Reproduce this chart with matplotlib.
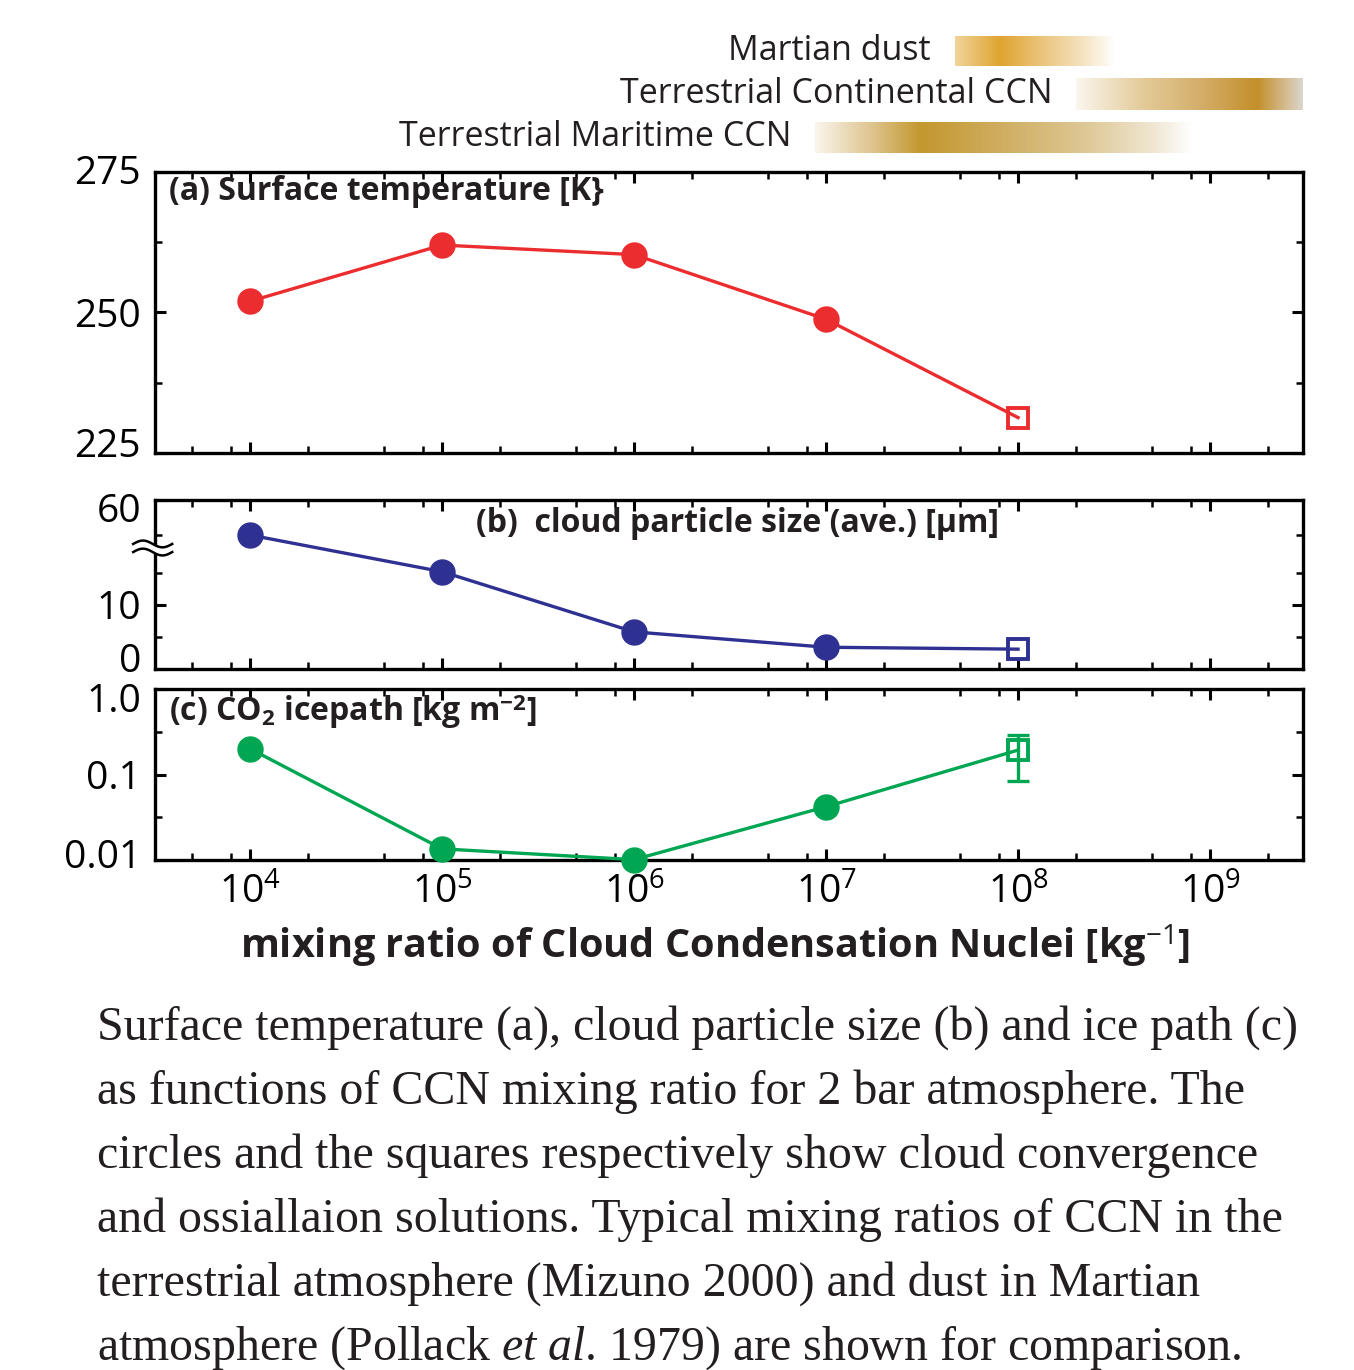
import numpy as np
import matplotlib
matplotlib.use('Agg')
import matplotlib.pyplot as plt
from matplotlib.colors import LinearSegmentedColormap
from matplotlib.ticker import FixedLocator, NullFormatter, LogLocator, FixedFormatter
from matplotlib.transforms import ScaledTranslation

plt.rcParams['font.family'] = ['Open Sans', 'DejaVu Sans']
plt.rcParams['mathtext.fontset'] = 'custom'
plt.rcParams['mathtext.rm'] = 'Open Sans'
plt.rcParams['mathtext.bf'] = 'Open Sans:bold'
plt.rcParams['mathtext.it'] = 'Liberation Serif:italic'

W, H = 1354, 1370

# ─── Data ─────────────────────────────────────────────────────────────────────
ccn = [1e4, 1e5, 1e6, 1e7, 1e8]                 # kg^-1
temp = [252.0, 262.0, 260.3, 248.8, 231.3]      # K
size = [30.0, 15.2, 5.8, 3.4, 3.1]              # um
ice = [0.20, 0.0135, 0.0101, 0.042, 0.193]      # kg m^-2
ice_err = [0.084, 0.29]                         # range at last point
n_conv = 4                                      # first n converge (circles)

range_names = ['Martian dust', 'Terrestrial Continental CCN', 'Terrestrial Maritime CCN']
range_lo = [7.67, 8.30, 6.94]                   # log10 kg^-1
range_hi = [8.50, 9.48, 8.90]

RED, BLUE, GREEN = '#EC2D2F', '#2E3192', '#00A651'
XLIM = (10**3.505, 10**9.484)

# gradient colours for each range bar
grad_stops = [
    [(0, '#F0D49A'), (0.28, '#E0A430'), (0.55, '#EBC57E'), (0.8, '#F5E3C0'), (1, '#FFFFFF')],
    [(0, '#FBF6EE'), (0.3, '#E3CA98'), (0.55, '#D4AE6A'), (0.8, '#C48F2A'), (1, '#DCD6CC')],
    [(0, '#FAF5EC'), (0.15, '#DEC48E'), (0.28, '#C4972E'), (0.5, '#D0AE62'),
     (0.72, '#DEC896'), (0.9, '#F0E6D2'), (1, '#FFFFFF')],
]
bar_rows = [(36, 66), (78, 110), (122, 153)]    # pixel rows of the bars


def fig_rect(l, t, r, b):
    return [l / W, 1 - b / H, (r - l) / W, (b - t) / H]


def style_axes(ax):
    for s in ax.spines.values():
        s.set_linewidth(2.4)
    ax.set_xscale('log')
    ax.set_xlim(*XLIM)
    ax.xaxis.set_major_locator(LogLocator(base=10, numticks=20))
    ax.xaxis.set_minor_locator(LogLocator(base=10, subs=[2, 5, 8], numticks=20))
    ax.xaxis.set_minor_formatter(NullFormatter())
    ax.tick_params(which='both', direction='in', top=True, right=True,
                   labelsize=28, pad=10)
    ax.tick_params(which='major', length=8, width=2.2)
    ax.tick_params(which='minor', length=5, width=1.8)
    ax.tick_params(axis='x', labelbottom=False)


def nudge_ylabels(ax, first=0, last=0):
    # shift end labels (pixels, + = up) so they clear neighbouring panels
    labels = ax.get_yticklabels()
    for lab, dy in ((labels[0], first), (labels[-1], last)):
        if dy:
            lab.set_transform(lab.get_transform() +
                              ScaledTranslation(0, dy / 100, fig.dpi_scale_trans))


def plot_series(ax, y, color):
    ax.plot(ccn, y, '-', color=color, lw=2.4, zorder=3, clip_on=False)
    ax.plot(ccn[:n_conv], y[:n_conv], 'o', color=color, ms=18, zorder=4, clip_on=False)
    ax.plot(ccn[n_conv:], y[n_conv:], 's', mfc='none', mec=color, mew=2.8, ms=14,
            zorder=4, clip_on=False)


def draw_break(ax, yfrac):
    t = np.linspace(-0.019, 0.015, 60)
    w = 0.02 * np.sin((t - t[0]) / (t[-1] - t[0]) * 2 * np.pi)
    gap = 0.024
    ax.fill_between(t, yfrac + w - gap, yfrac + w + gap, transform=ax.transAxes,
                    color='white', zorder=10, clip_on=False, lw=0)
    for s in (-gap, gap):
        ax.plot(t, yfrac + w + s, transform=ax.transAxes, color='black', lw=1.8,
                clip_on=False, zorder=11)


fig = plt.figure(figsize=(W / 100, H / 100), dpi=100)

# ─── Range bars ───────────────────────────────────────────────────────────────
axr = fig.add_axes(fig_rect(155, 30, 1303, 160))
axr.set_xlim(np.log10(XLIM[0]), np.log10(XLIM[1]))
axr.set_ylim(160, 30)
axr.axis('off')
grad = np.linspace(0, 1, 256)[None, :]
for name, lo, hi, stops, (y0, y1) in zip(range_names, range_lo, range_hi, grad_stops, bar_rows):
    cmap = LinearSegmentedColormap.from_list('g', stops)
    axr.imshow(grad, extent=[lo, hi, y1, y0], cmap=cmap, aspect='auto', interpolation='bicubic')
    axr.annotate(name, xy=(lo, (y0 + y1) / 2), xytext=(-17, 0), textcoords='offset points',
                 ha='right', va='center', fontsize=24.5, color='#231F20')

# ─── (a) surface temperature ──────────────────────────────────────────────────
axa = fig.add_axes(fig_rect(155, 172, 1303, 453))
style_axes(axa)
plot_series(axa, temp, RED)
axa.set_ylim(225, 275)
axa.yaxis.set_major_locator(FixedLocator([225, 250, 275]))
axa.yaxis.set_minor_locator(FixedLocator([237.5, 262.5]))
nudge_ylabels(axa, first=10, last=2)
axa.text(0.012, 0.93, '(a) Surface temperature [K}', transform=axa.transAxes,
         fontsize=23, fontweight='bold', ha='left', va='center', color='#231F20')

# ─── (b) cloud particle size (broken axis) ────────────────────────────────────
BRK, K = 18.9, 0.1825


def fwd(y):
    y = np.asarray(y, float)
    return np.where(y < BRK, y, BRK + (y - BRK) * K)


def inv(d):
    d = np.asarray(d, float)
    return np.where(d < BRK, d, BRK + (d - BRK) / K)


axb = fig.add_axes(fig_rect(155, 500, 1303, 669))
style_axes(axb)
axb.set_yscale('function', functions=(fwd, inv))
plot_series(axb, size, BLUE)
axb.set_ylim(0, 60)
axb.yaxis.set_major_locator(FixedLocator([0, 10, 60]))
axb.yaxis.set_major_formatter(FixedFormatter(['0', '10', '60']))
axb.yaxis.set_minor_locator(FixedLocator([5, 15, 30]))
axb.yaxis.set_minor_formatter(NullFormatter())
nudge_ylabels(axb, first=11, last=-8)
axb.text(0.507, 0.86, '(b)  cloud particle size (ave.) [\u00b5m]', transform=axb.transAxes,
         fontsize=23, fontweight='bold', ha='center', va='center', color='#231F20')
draw_break(axb, (669 - 548) / 169)

# ─── (c) CO2 ice path ─────────────────────────────────────────────────────────
axc = fig.add_axes(fig_rect(155, 689, 1303, 860))
style_axes(axc)
axc.set_yscale('log')
axc.errorbar(ccn[-1], ice[-1], yerr=[[ice[-1] - ice_err[0]], [ice_err[1] - ice[-1]]],
             fmt='none', ecolor=GREEN, elinewidth=2.4, capsize=8, capthick=2.4, zorder=4)
plot_series(axc, ice, GREEN)
axc.set_ylim(0.01, 1.0)
axc.yaxis.set_major_locator(FixedLocator([0.01, 0.1, 1.0]))
axc.yaxis.set_major_formatter(FixedFormatter(['0.01', '0.1', '1.0']))
axc.yaxis.set_minor_locator(FixedLocator([10**-1.5, 10**-0.5]))
axc.yaxis.set_minor_formatter(NullFormatter())
nudge_ylabels(axc, first=7, last=-8)
axc.tick_params(axis='x', labelbottom=True, pad=10)
axc.text(0.012, 0.87, r'(c) CO$_\mathbf{2}$ icepath [kg m$^\mathbf{-2}$]', transform=axc.transAxes,
         fontsize=23, fontweight='bold', ha='left', va='center', color='#231F20')
axc.set_xlabel(r'mixing ratio of Cloud Condensation Nuclei [kg$^{-1}$]', fontsize=28.5,
               fontweight='bold', color='#231F20')
axc.xaxis.set_label_coords((715 - 155) / 1148, (860 - 922) / 171)

# ─── Caption ──────────────────────────────────────────────────────────────────
caption = [
    'Surface temperature (a), cloud particle size (b) and ice path (c)',
    'as functions of CCN mixing ratio for 2 bar atmosphere. The',
    'circles and the squares respectively show cloud convergence',
    'and ossiallaion solutions. Typical mixing ratios of CCN in the',
    'terrestrial atmosphere (Mizuno 2000) and dust in Martian',
    r'atmosphere (Pollack $\mathit{et\ al}$. 1979) are shown for comparison.',
]
for i, line in enumerate(caption):
    fig.text(97 / W, 1 - (1040 + 64 * i) / H, line, fontsize=34.5, family='Liberation Serif',
             ha='left', va='baseline', color='#231F20')

fig.savefig('out.png', dpi=100, facecolor='white')
